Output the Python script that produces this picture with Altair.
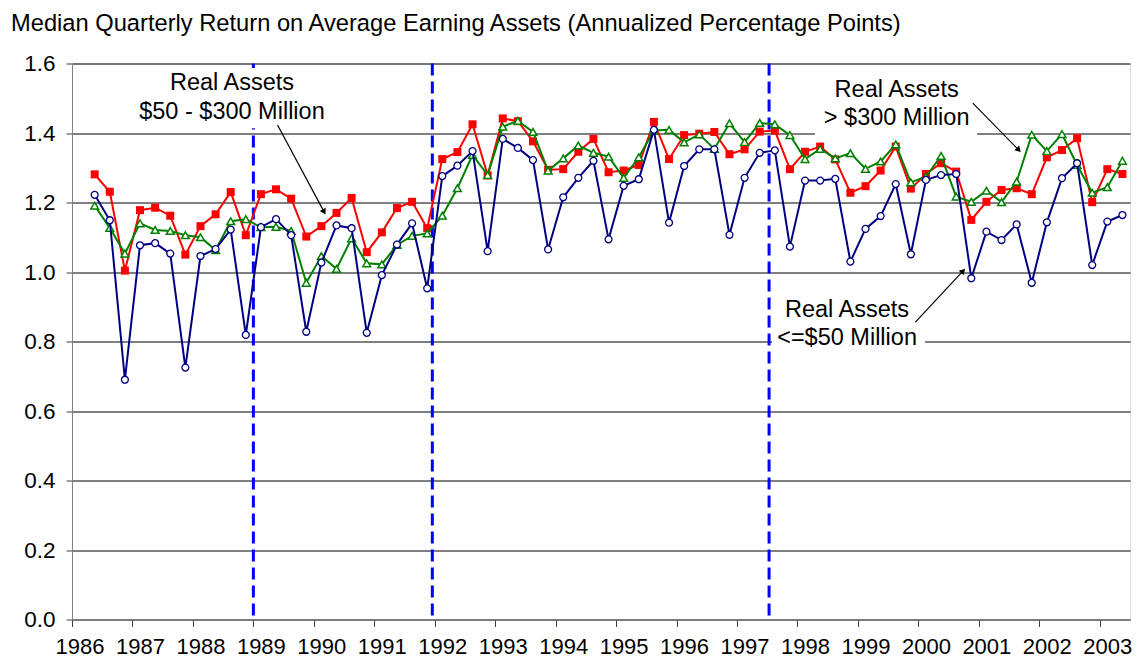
import math
import altair as alt
import pandas as pd

FONT = "Liberation Sans"
TITLE = "Median Quarterly Return on Average Earning Assets (Annualized Percentage Points)"

# first observation: 1986 Q2, quarterly to 2003 Q2
first_year = 1986
first_quarter = 2

# Real Assets $50 - $300 Million (red squares)
ra_mid = [1.281, 1.231, 1.004,
          1.178, 1.185, 1.162, 1.050,
          1.132, 1.166, 1.230, 1.106,
          1.224, 1.238, 1.211, 1.102,
          1.132, 1.170, 1.213, 1.057,
          1.114, 1.184, 1.202, 1.126,
          1.325, 1.345, 1.425, 1.278,
          1.442, 1.434, 1.376, 1.294,
          1.296, 1.346, 1.383, 1.287,
          1.292, 1.308, 1.432, 1.325,
          1.394, 1.398, 1.403, 1.339,
          1.353, 1.404, 1.407, 1.296,
          1.346, 1.361, 1.324, 1.228,
          1.247, 1.292, 1.361, 1.240,
          1.282, 1.313, 1.289, 1.150,
          1.202, 1.236, 1.241, 1.224,
          1.330, 1.351, 1.385, 1.201,
          1.296, 1.282]

# Real Assets > $300 Million (green triangles)
ra_large = [1.191, 1.127, 1.053,
            1.140, 1.121, 1.118, 1.106,
            1.100, 1.063, 1.146, 1.152,
            1.129, 1.130, 1.118, 0.969,
            1.046, 1.009, 1.097, 1.025,
            1.022, 1.078, 1.104, 1.111,
            1.162, 1.241, 1.337, 1.279,
            1.418, 1.435, 1.403, 1.292,
            1.327, 1.364, 1.343, 1.332,
            1.271, 1.330, 1.407, 1.409,
            1.373, 1.396, 1.354, 1.428,
            1.374, 1.429, 1.425, 1.394,
            1.325, 1.354, 1.327, 1.342,
            1.297, 1.318, 1.367, 1.258,
            1.274, 1.334, 1.217, 1.202,
            1.234, 1.201, 1.260, 1.395,
            1.348, 1.397, 1.308, 1.228,
            1.244, 1.320]

# Real Assets <= $50 Million (navy circles)
ra_small = [1.222, 1.149, 0.690,
            1.077, 1.083, 1.053, 0.725,
            1.046, 1.066, 1.122, 0.819,
            1.129, 1.152, 1.106, 0.828,
            1.027, 1.134, 1.126, 0.825,
            0.991, 1.079, 1.140, 0.953,
            1.276, 1.306, 1.348, 1.060,
            1.383, 1.357, 1.322, 1.065,
            1.215, 1.271, 1.320, 1.094,
            1.248, 1.267, 1.409, 1.142,
            1.305, 1.353, 1.353, 1.107,
            1.271, 1.343, 1.350, 1.073,
            1.263, 1.263, 1.268, 1.030,
            1.124, 1.161, 1.253, 1.051,
            1.265, 1.279, 1.282, 0.982,
            1.116, 1.092, 1.137, 0.969,
            1.143, 1.270, 1.313, 1.020,
            1.145, 1.164]

year_ticks = list(range(1986, 2004))
y_ticks = [0.0, 0.2, 0.4, 0.6, 0.8, 1.0, 1.2, 1.4, 1.6]

# vertical dashed event lines (decimal years)
event_years = [1989.0, 1991.96, 1997.53]

# annotation texts
ann_text = ["Real Assets", "$50 - $300 Million",
            "Real Assets", "> $300 Million",
            "Real Assets", "<=$50 Million"]
ann_x = [1988.646, 1988.646, 1999.64, 1999.64, 1998.82, 1998.82]
ann_y = [1.544, 1.461, 1.524, 1.442, 0.891, 0.809]

# white label boxes behind annotations
box_x = [1987.08, 1998.29, 1997.58]
box_x2 = [1990.20, 2000.97, 2000.11]
box_y = [1.414, 1.391, 0.770]
box_y2 = [1.587, 1.567, 0.942]

# arrows
arrow_x = [1989.40, 2000.90, 1999.95]
arrow_y = [1.423, 1.486, 0.856]
arrow_x2 = [1990.17, 2001.66, 2000.74]
arrow_y2 = [1.173, 1.351, 1.003]

W, H = 1058, 556
X_DOMAIN = [1986, 2003.5]
Y_DOMAIN = [0, 1.6]


def quarter_positions(n):
    pos = []
    y, q = first_year, first_quarter
    for _ in range(n):
        pos.append(y + (q - 1) / 4 + 0.125)
        q += 1
        if q > 4:
            q = 1
            y += 1
    return pos


t = quarter_positions(len(ra_mid))

xscale = alt.Scale(domain=X_DOMAIN, nice=False, zero=False)
yscale = alt.Scale(domain=Y_DOMAIN, nice=False, zero=False)

xaxis = alt.Axis(values=year_ticks, format="d", labelOffset=7.5, tickSize=7,
                 labelPadding=10, grid=False, title=None, domainColor="#808080",
                 tickColor="#404040", labelFontSize=22, labelColor="black",
                 labelFlush=False, labelOverlap=False, labelFont=FONT)
yaxis = alt.Axis(values=y_ticks, format=".1f", tickSize=6, labelPadding=11,
                 grid=True, gridColor="#000000", gridWidth=1, title=None,
                 domainColor="#808080", tickColor="#404040", labelFontSize=22.5,
                 labelColor="black", labelFlush=False, labelFont=FONT)

ev_df = pd.DataFrame({"t": event_years})
rules = alt.Chart(ev_df).mark_rule(color="#0000FF", strokeWidth=3,
                                   strokeDash=[12, 6]).encode(
    x=alt.X("t:Q", scale=xscale, axis=xaxis))

box_df = pd.DataFrame({"x": box_x, "x2": box_x2, "y": box_y, "y2": box_y2})
boxes = alt.Chart(box_df).mark_rect(fill="white").encode(
    x=alt.X("x:Q", scale=xscale), x2="x2:Q",
    y=alt.Y("y:Q", scale=yscale, axis=yaxis), y2="y2:Q")


def series(values, color, shape, filled, fill, size, sw):
    df = pd.DataFrame({"t": t, "v": values})
    base = alt.Chart(df).encode(
        x=alt.X("t:Q", scale=xscale),
        y=alt.Y("v:Q", scale=yscale))
    line = base.mark_line(color=color, strokeWidth=2)
    pts = base.mark_point(shape=shape, filled=filled, fill=fill, color=color,
                          stroke=color, size=size, strokeWidth=sw, opacity=1)
    return line + pts


red = series(ra_mid, "#FF0000", "square", True, "#FF0000", 64, 0)
green = series(ra_large, "#008000", "triangle-up", False, "white", 60, 1.5)
navy = series(ra_small, "#000080", "circle", False, "white", 48, 1.3)

ann_df = pd.DataFrame({"text": ann_text, "x": ann_x, "y": ann_y})
ann = alt.Chart(ann_df).mark_text(fontSize=23.5, font=FONT, color="black",
                                  align="center", baseline="middle").encode(
    x=alt.X("x:Q", scale=xscale), y=alt.Y("y:Q", scale=yscale), text="text:N")

px_per_x = W / (X_DOMAIN[1] - X_DOMAIN[0])
px_per_y = H / (Y_DOMAIN[1] - Y_DOMAIN[0])
angles = []
for a, b, c, d in zip(arrow_x, arrow_y, arrow_x2, arrow_y2):
    ang = math.degrees(math.atan2((c - a) * px_per_x, (d - b) * px_per_y))
    angles.append(ang % 360)

arr_df = pd.DataFrame({"x": arrow_x, "y": arrow_y, "x2": arrow_x2,
                       "y2": arrow_y2, "angle": angles})
arr_lines = alt.Chart(arr_df).mark_rule(color="black", strokeWidth=1.2).encode(
    x=alt.X("x:Q", scale=xscale), y=alt.Y("y:Q", scale=yscale),
    x2="x2:Q", y2="y2:Q")
arr_heads = alt.Chart(arr_df).mark_point(shape="triangle-up", filled=True,
                                         color="black", size=45, opacity=1).encode(
    x=alt.X("x2:Q", scale=xscale), y=alt.Y("y2:Q", scale=yscale),
    angle=alt.Angle("angle:Q", scale=None))

title_df = pd.DataFrame({"t": [TITLE]})
title = alt.Chart(title_df).mark_text(align="left", baseline="alphabetic",
                                      fontSize=23.7, font=FONT, color="black").encode(
    x=alt.value(-61), y=alt.value(-33), text="t:N")

chart = alt.layer(rules, boxes, red, green, navy, arr_lines, arr_heads, ann, title).properties(
    width=W, height=H,
    padding={"left": 64, "top": 55.5, "right": 2, "bottom": 39.5},
    autosize=alt.AutoSizeParams(type="none"),
    background="white",
).configure_view(strokeWidth=0).configure(font=FONT)

chart.save("out.html", embed_options={"renderer": "svg", "actions": False})
